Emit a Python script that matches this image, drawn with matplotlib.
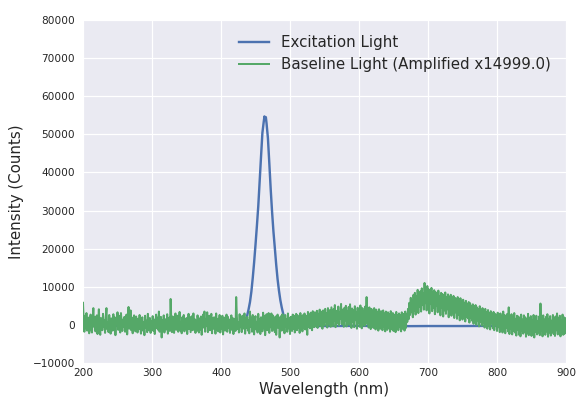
import numpy as np
import matplotlib
matplotlib.use('Agg')
import matplotlib.pyplot as plt

# green baseline spectrum, one value per nm from 200 to 900 nm,
# given in hundreds of counts
baseline_nm = np.arange(200, 901)
baseline_hundreds = [
    58, 12, -18, 24, -9, 31, -15, 6, 19, -22,
    8, 27, -12, -20, 15, 44, -5, 21, -17, 3,
    25, -24, 10, 41, -8, -26, 18, 2, -14, 29,
    -6, 13, -21, 22, 44, -11, 7, -19, 26, 1,
    -23, 17, 5, -15, 28, -9, 20, -27, 11, 4,
    33, -13, 24, -7, -20, 31, 9, -16, 14, -4,
    21, -18, 6, 27, -25, 12, 47, -10, 3, 38,
    -14, 19, -22, 8, 25, -6, -17, 22, 0, -20,
    16, -11, 26, -3, -23, 13, 20, -15, 7, -27,
    24, -8, 11, -19, 29, 2, -14, 18, -21, 9,
    -5, 23, -16, 14, -24, 6, 27, -9, 19, -13,
    35, -18, 4, 21, -33, 12, -7, 25, -20, 8,
    15, -12, 28, -23, 5, 19, -16, 68, 10, -19,
    22, -6, -21, 16, 30, -13, 3, 24, -18, 11,
    34, -15, 8, -22, 20, -4, 26, -17, 13, -9,
    18, -24, 7, 29, -11, 21, -19, 2, 23, -14,
    30, -8, 15, -21, 11, -16, 25, 4, -20, 17,
    -12, 22, -26, 9, 27, -7, 35, -18, 14, -3,
    33, -19, 12, 24, -14, 6, 29, -22, 18, -10,
    20, -5, -23, 30, -12, 16, -17, 8, 26, -20,
    13, -9, 24, -25, 10, 19, -15, 3, 27, -18,
    21, -7, 14, -21, 5, 25, -13, 18, -24, 9,
    16, -16, 73, 22, -11, 7, -20, 28, -6, 15,
    -19, 24, -10, 2, 30, -23, 17, -8, 21, -15,
    12, -22, 35, -5, 19, -18, 26, 4, -25, 14,
    23, -12, 8, -20, 29, -7, 16, -24, 20, 1,
    -17, 32, -9, 24, -27, 11, 28, -14, 6, 31,
    -21, 18, -6, 30, -16, 25, -12, 9, -19, 22,
    -26, 14, 27, -8, 20, -33, 12, 23, -15, 28,
    -11, 19, -22, 26, -4, 15, -18, 30, -9, 17,
    -24, 21, 3, -16, 27, -10, 24, -20, 13, 29,
    -14, 25, -7, 18, -21, 31, -3, 22, -17, 26,
    -8, 30, -12, 24, 16, -26, 34, -5, 27, -9,
    32, 4, -14, 36, 10, -6, 33, 18, -4, 37,
    -8, 29, 12, 40, -3, 35, 7, -10, 38, 15,
    -2, 42, 9, 31, -7, 44, 14, 1, 39, -5,
    46, 20, -3, 41, 11, 52, -6, 37, 24, 4,
    48, -2, 33, 16, 55, 2, 40, 28, -5, 45,
    12, 50, -4, 36, 22, 47, 0, 54, 18, -8,
    43, 8, 38, -6, 49, 14, 32, -10, 45, 6,
    40, -5, 51, 19, -9, 44, 10, 36, -3, 48,
    15, 73, 2, 39, -7, 46, 12, -11, 42, 5,
    37, -8, 44, 17, -12, 40, 3, 33, -15, 41,
    9, -10, 36, 21, -14, 38, -4, 30, -17, 35,
    6, -13, 33, -7, 28, -18, 36, 2, -12, 31,
    -16, 27, 10, -19, 34, -9, 25, -14, 30, -6,
    26, -17, 33, 4, -11, 29, -15, 35, -8, 28,
    8, 42, 15, 58, 26, 71, 33, 64, 20, 79,
    38, 84, 27, 75, 45, 92, 31, 80, 48, 88,
    35, 96, 52, 83, 40, 110, 57, 90, 38, 102,
    49, 93, 30, 88, 55, 97, 36, 85, 44, 91,
    28, 86, 50, 79, 33, 90, 42, 76, 25, 84,
    46, 81, 22, 77, 38, 85, 29, 72, 41, 80,
    20, 74, 35, 79, 24, 69, 31, 76, 18, 71,
    33, 67, 16, 73, 27, 64, 12, 70, 30, 62,
    14, 66, 25, 58, 9, 63, 21, 55, 17, 60,
    6, 57, 19, 50, 11, 54, 3, 48, 15, 52,
    0, 46, 12, 41, -4, 49, 8, 38, -2, 44,
    5, 37, -7, 42, 2, 33, -10, 39, -1, 31,
    -12, 36, 4, 28, -9, 34, -14, 29, 1, 25,
    -16, 32, -6, 27, -19, 30, -11, 23, -20, 35,
    -13, 26, -22, 21, -8, 29, -17, 46, -24, 20,
    -10, 28, -25, 19, -15, 31, -20, 16, -28, 24,
    -12, 22, -26, 18, -30, 27, -16, 14, -23, 25,
    -19, 20, -31, 15, -22, 29, -27, 17, -14, 23,
    -29, 12, -21, 26, -33, 19, -18, 24, -25, 10,
    -20, 22, -27, 56, -15, 18, -30, 25, -22, 14,
    -26, 21, -17, 28, -31, 16, -20, 23, -28, 11,
    -18, 26, -24, 19, -29, 22, -14, 30, -25, 17,
    -21, 24, -30, 13, -19, 27, -26, 20, -23, 18,
    15,
]

# blue excitation spectrum
excitation_nm = [200, 300, 400, 420, 430, 432, 434, 436, 438, 440, 442, 444,
                 446, 448, 450, 452, 454, 456, 458, 460, 462, 463, 464, 465,
                 466, 468, 470, 472, 474, 476, 478, 480, 482, 484, 486, 488,
                 490, 492, 494, 496, 498, 500, 520, 560, 600, 650, 700, 750,
                 800, 850, 900]
excitation_counts = [-200, -300, -200, -100, 0, 100, 400, 1100, 2500, 4100,
                     6000, 8700, 12300, 16400, 21000, 25900, 31100, 37600,
                     44100, 50400, 53400, 54700, 53800, 54500, 52900, 49000,
                     42500, 35700, 29700, 24500, 20200, 15800, 12000, 9000,
                     6500, 4600, 3000, 1600, 650, 200, 0, -100, -300, -300,
                     -250, -350, -300, -300, -250, -300, -300]

labels = ['Excitation Light', 'Baseline Light (Amplified x14999.0)']
colors = ['#4C72B0', '#55A868']

plt.rcParams.update({
    'axes.facecolor': '#EAEAF2',
    'axes.edgecolor': 'white',
    'axes.grid': True,
    'grid.color': 'white',
    'grid.linewidth': 1.2,
    'axes.axisbelow': True,
    'text.color': '.15',
    'axes.labelcolor': '.15',
    'xtick.color': '.15',
    'ytick.color': '.15',
    'xtick.major.size': 0,
    'ytick.major.size': 0,
    'font.family': 'DejaVu Sans',
})

fig, ax = plt.subplots(figsize=(8, 402 / 72), dpi=72)
fig.subplots_adjust(left=83 / 576, right=566 / 576, top=1 - 20 / 402,
                    bottom=1 - 363 / 402)

baseline_counts = np.array(baseline_hundreds) * 100

ax.plot(excitation_nm, excitation_counts, color=colors[0], lw=2.4,
        label=labels[0])
ax.plot(baseline_nm, baseline_counts, color=colors[1], lw=2,
        label=labels[1])

for s in ax.spines.values():
    s.set_visible(False)
ax.set_xlim(200, 900)
ax.set_ylim(-10000, 80000)
ax.set_xticks(np.arange(200, 901, 100))
ax.set_yticks(np.arange(-10000, 80001, 10000))
ax.tick_params(axis='both', labelsize=10.5)
ax.tick_params(axis='y', pad=8)
ax.tick_params(axis='x', pad=5)
ax.set_xlabel('Wavelength (nm)', fontsize=15, labelpad=4)
ax.set_ylabel('Intensity (Counts)', fontsize=15, labelpad=9)
ax.legend(loc='upper right', frameon=False, fontsize=15,
          borderaxespad=0.6)

fig.savefig('out.png', dpi=72)
